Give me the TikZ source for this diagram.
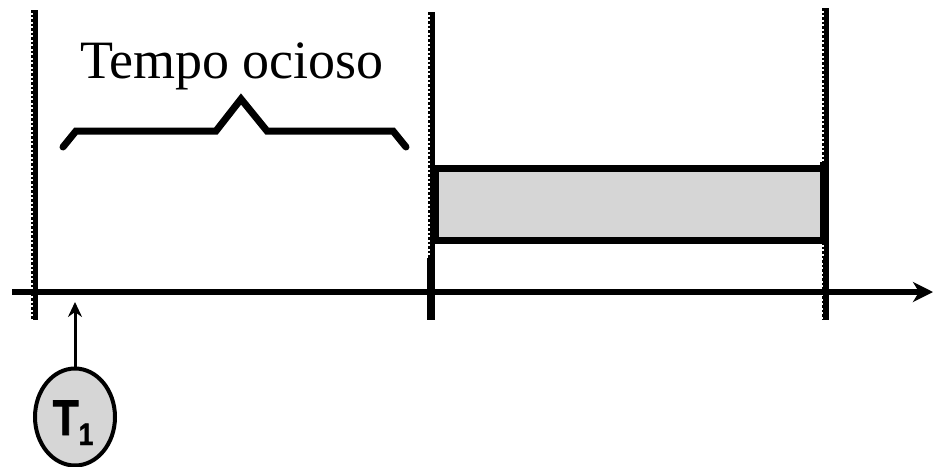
\documentclass[tikz,border=0pt]{standalone}
\usepackage{fontspec}
\setmainfont{Liberation Serif}
\newfontfamily\labfont{Liberation Sans}[BoldFont={Liberation Sans Bold},BoldFeatures={FakeBold=1.5}]
\usetikzlibrary{arrows.meta,shapes.geometric}
\definecolor{boxgray}{HTML}{D6D6D6}
\tikzset{
  vline/.style={line width=5pt},
  vdots/.style={line width=2.5pt,dotted},
  axisline/.style={line width=6pt,-{Stealth[length=20pt,width=20pt,inset=6pt]}},
  braceline/.style={line width=7pt,line cap=round,line join=miter},
  busy/.style={draw,line width=7pt,fill=boxgray,inner sep=0pt},
  task/.style={draw,ellipse,line width=4pt,fill=boxgray,minimum width=80pt,minimum height=97pt,inner sep=0pt},
  ticks/.style={line width=6pt}
}
\begin{document}
\begin{tikzpicture}[x=1pt,y=-1pt]
\useasboundingbox (0,0) rectangle (933,466);
% vertical time lines
\foreach \xx/\yt in {35/10,432/12,826/8}{
  \draw[vline] (\xx,\yt) -- (\xx,320);
  \draw[vdots] (\xx-3,\yt) -- (\xx-3,320);
}
\draw[ticks] (430,258) -- (430,320);
\draw[ticks] (826,258) -- (826,320);
% busy box
\node[busy,minimum width=390pt,minimum height=72pt,anchor=north west] (busy) at (432,165) {};
\draw[line width=8pt] (824,162) -- (824,240);
% axis
\coordinate (a0) at (12,292);
\coordinate (a1) at (933,292);
\draw[axisline] (a0) -- (a1);
% label and brace
\node[font=\fontsize{54}{60}\selectfont,anchor=base] (lbl) at (232,78) {Tempo ocioso};
\draw[braceline] (63,147) -- (76,131) -- (216,131) -- (241,99) -- (267,131) -- (393,131) -- (406,147);
% task circle
\node[task] (t1) at (75,417) {};
\node[anchor=base,inner sep=0pt] (t1lbl) at (73,435) {\labfont\bfseries\fontsize{50}{52}\selectfont\scalebox{0.85}[1]{T}\raisebox{-10pt}{\fontsize{31}{33}\selectfont\scalebox{0.85}[1]{1}}};
\coordinate (arr) at (75,302);
\draw[line width=3pt,-{Stealth[length=15pt,width=14pt,inset=5pt]}] (t1.north) -- (arr);
\end{tikzpicture}
\end{document}
